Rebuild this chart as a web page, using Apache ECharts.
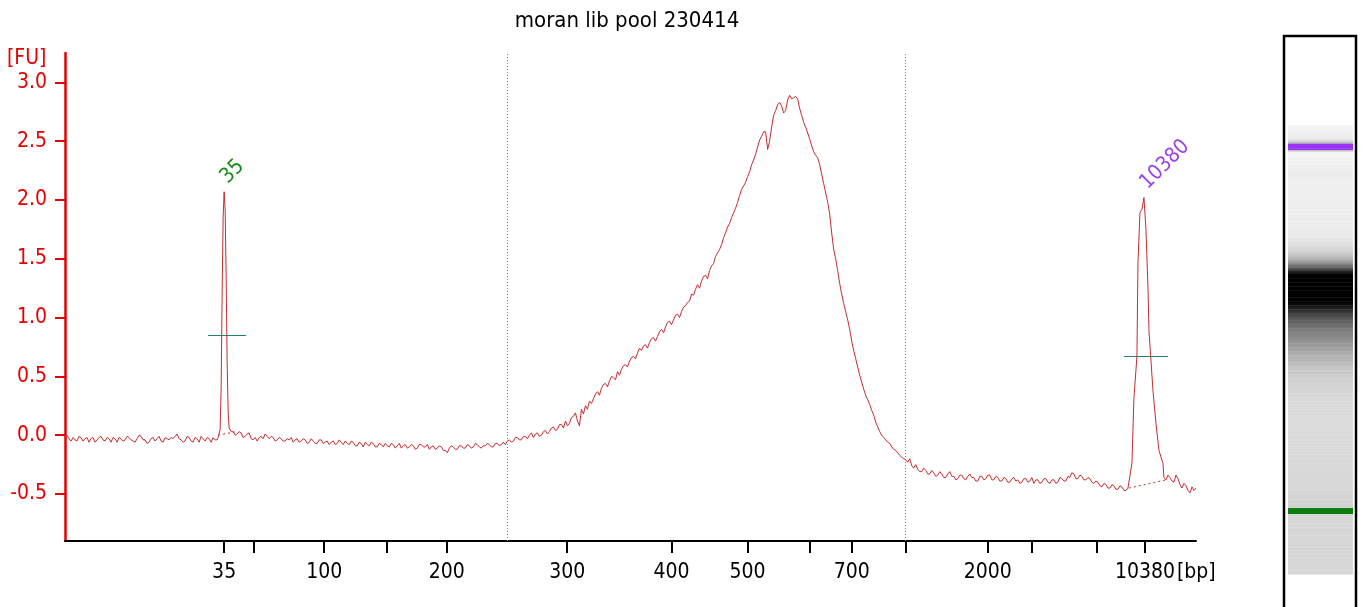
<!DOCTYPE html>
<html><head><meta charset="utf-8">
<script src="https://cdn.jsdelivr.net/npm/echarts@6/dist/echarts.min.js"></script>
<style>html,body{margin:0;padding:0;background:#fff}#c{width:1361px;height:607px}</style>
</head><body><div id="c"></div>
<script>
// ---- data ----
const titleText = 'moran lib pool 230414';
// migration position (arbitrary time units) of ladder sizes
const ladderT  = [15.9, 18.9, 25.9, 32.1, 38.15, 50.18, 60.6, 68.2, 74.4, 78.6, 84.0, 92.2, 96.6, 103.1, 107.9];
const ladderBp = ['35', '50', '100', '150', '200', '300', '400', '500', '600', '700', '1000', '2000', '3000', '7000', '10380'];
const labeledBp = ['35', '100', '200', '300', '400', '500', '700', '2000', '10380'];
const yTicks = [-0.5, 0, 0.5, 1.0, 1.5, 2.0, 2.5, 3.0];
const regionT = [44.16, 84.0];
const sampleStep = 0.2;
const traceFU = [
 -0.01,0.00,-0.03,-0.05,-0.02,-0.04,-0.05,-0.01,-0.02,-0.05,-0.03,-0.02,-0.06,-0.03,-0.02,-0.06,-0.04,-0.02,-0.01,-0.04,
 -0.05,-0.02,-0.03,-0.06,-0.02,-0.03,-0.06,-0.02,-0.03,-0.05,-0.04,-0.01,-0.02,-0.04,-0.05,-0.06,-0.03,0.00,-0.01,-0.04,
 -0.04,-0.07,-0.06,-0.03,-0.02,-0.05,-0.03,-0.01,-0.05,-0.06,-0.02,-0.03,-0.04,-0.02,-0.03,-0.01,0.01,-0.03,-0.04,-0.06,
 -0.05,-0.01,-0.02,-0.05,-0.06,-0.02,-0.03,-0.06,-0.01,-0.03,-0.05,-0.02,-0.03,-0.06,-0.02,-0.04,-0.04,-0.01,0.00,0.01,
 0.02,0.03,0.02,0.04,0.03,0.00,0.01,0.03,0.02,-0.02,-0.01,0.01,0.02,-0.03,-0.04,-0.02,-0.05,-0.02,-0.01,-0.03,
 0.01,-0.01,-0.03,-0.01,-0.02,-0.05,-0.04,-0.02,-0.03,-0.05,-0.05,-0.03,-0.04,-0.02,-0.06,-0.04,-0.03,-0.06,-0.05,-0.03,
 -0.04,-0.07,-0.06,-0.03,-0.05,-0.07,-0.07,-0.04,-0.04,-0.07,-0.06,-0.05,-0.08,-0.06,-0.05,-0.08,-0.07,-0.04,-0.06,-0.08,
 -0.05,-0.07,-0.08,-0.05,-0.06,-0.09,-0.09,-0.06,-0.07,-0.10,-0.06,-0.08,-0.09,-0.06,-0.07,-0.10,-0.10,-0.07,-0.08,-0.10,
 -0.07,-0.09,-0.10,-0.07,-0.08,-0.11,-0.09,-0.07,-0.11,-0.09,-0.08,-0.11,-0.10,-0.08,-0.09,-0.12,-0.11,-0.08,-0.08,-0.10,
 -0.10,-0.08,-0.12,-0.10,-0.09,-0.12,-0.11,-0.09,-0.10,-0.13,-0.13,-0.15,-0.11,-0.09,-0.10,-0.12,-0.12,-0.09,-0.09,-0.11,
 -0.11,-0.08,-0.09,-0.11,-0.10,-0.07,-0.08,-0.10,-0.11,-0.09,-0.09,-0.07,-0.08,-0.10,-0.10,-0.07,-0.07,-0.09,-0.08,-0.06,
 -0.08,-0.05,-0.04,-0.06,-0.05,-0.02,-0.02,-0.04,-0.04,-0.01,-0.01,-0.03,0.00,0.02,-0.02,0.01,0.02,-0.01,0.00,0.03,
 0.04,0.01,0.03,0.06,0.07,0.04,0.05,0.09,0.09,0.06,0.12,0.08,0.10,0.15,0.16,0.19,0.12,0.08,0.22,0.18,
 0.25,0.22,0.29,0.27,0.31,0.35,0.37,0.34,0.40,0.43,0.44,0.41,0.46,0.50,0.49,0.47,0.54,0.51,0.56,0.59,
 0.60,0.58,0.63,0.66,0.67,0.65,0.70,0.74,0.72,0.76,0.77,0.74,0.79,0.82,0.83,0.80,0.84,0.88,0.90,0.87,
 0.92,0.96,0.97,0.94,0.98,1.02,1.03,1.00,1.05,1.09,1.10,1.13,1.14,1.20,1.19,1.24,1.28,1.25,1.31,1.35,
 1.36,1.33,1.40,1.44,1.46,1.52,1.55,1.58,1.62,1.68,1.72,1.77,1.80,1.85,1.89,1.93,1.98,2.04,2.09,2.12,
 2.15,2.20,2.24,2.30,2.34,2.39,2.45,2.51,2.54,2.58,2.58,2.43,2.50,2.62,2.72,2.76,2.81,2.83,2.80,2.74,
 2.76,2.85,2.89,2.86,2.87,2.88,2.86,2.78,2.72,2.66,2.62,2.57,2.52,2.46,2.41,2.38,2.36,2.30,2.22,2.14,
 2.06,1.98,1.88,1.72,1.58,1.50,1.40,1.29,1.20,1.12,1.05,0.98,0.90,0.80,0.72,0.65,0.58,0.51,0.45,0.39,
 0.34,0.30,0.26,0.21,0.17,0.11,0.07,0.03,0.00,-0.02,-0.04,-0.06,-0.07,-0.10,-0.12,-0.13,-0.15,-0.17,-0.19,-0.20,
 -0.21,-0.23,-0.20,-0.26,-0.28,-0.25,-0.29,-0.31,-0.31,-0.28,-0.30,-0.33,-0.33,-0.30,-0.32,-0.35,-0.34,-0.31,-0.33,-0.36,
 -0.36,-0.33,-0.31,-0.35,-0.35,-0.38,-0.37,-0.34,-0.34,-0.37,-0.38,-0.35,-0.33,-0.36,-0.36,-0.39,-0.39,-0.35,-0.35,-0.38,
 -0.37,-0.34,-0.34,-0.38,-0.38,-0.35,-0.36,-0.39,-0.39,-0.36,-0.37,-0.40,-0.40,-0.37,-0.36,-0.39,-0.38,-0.41,-0.40,-0.37,
 -0.37,-0.40,-0.39,-0.36,-0.41,-0.38,-0.38,-0.41,-0.40,-0.37,-0.37,-0.40,-0.41,-0.38,-0.38,-0.41,-0.40,-0.36,-0.37,-0.39,
 -0.39,-0.35,-0.36,-0.32,-0.33,-0.37,-0.37,-0.34,-0.35,-0.38,-0.38,-0.36,-0.37,-0.40,-0.41,-0.39,-0.40,-0.43,-0.44,-0.41,
 -0.42,-0.45,-0.45,-0.42,-0.43,-0.46,-0.46,-0.43,-0.44,-0.47,-0.47,-0.45,-0.45,-0.45,-0.45,-0.45,-0.45,-0.45,-0.45,-0.45,
 -0.45,-0.45,-0.45,-0.45,-0.45,-0.45,-0.45,-0.45,-0.45,-0.36,-0.38,-0.34,-0.36,-0.39,-0.40,-0.34,-0.37,-0.42,-0.45,-0.41,
 -0.43,-0.47,-0.49,-0.44,-0.47,-0.45
];
const markerLowT  = [15.3, 15.5, 15.6, 15.7, 15.8, 15.9, 16.0, 16.1, 16.2, 16.3, 16.4, 16.6];
const markerLowFU = [-0.02, 0.05, 0.40, 1.20, 1.85, 2.07, 1.92, 1.35, 0.62, 0.20, 0.06, 0.03];
const markerHighT  = [106.3, 106.6, 106.8, 107.1, 107.2, 107.4, 107.6, 107.8, 108.0, 108.2, 108.3, 108.7, 109.0, 109.3, 109.7];
const markerHighFU = [-0.45, -0.24, 0.32, 0.67, 1.46, 1.89, 1.92, 2.02, 1.75, 1.26, 0.89, 0.38, 0.10, -0.13, -0.24];
const peakNames = ['35', '10380'];
const peakT  = [15.9, 107.8];
const peakFU = [2.07, 2.02];
const fwhmFromT = [14.3, 105.8];
const fwhmToT   = [18.1, 110.2];
const fwhmFU    = [0.846, 0.67];
const baseFromT  = [15.3, 106.3];
const baseFromFU = [0.00, -0.45];
const baseToT    = [17.1, 110.0];
const baseToFU   = [0.03, -0.38];

// ---- build ----
const FONT = "'DejaVu Sans Condensed', 'DejaVu Sans', sans-serif";
const FS = 21;
const RED = '#e60000';
const TRACE = '#c42d30';
const peakColors = ['#178a17', '#9b3ff0'];
const bandColors = ['#0a7d0a', '#9a34f5'];
const bandHalf = 0.8;

const pts = [];
const within = (t, arr) => t >= arr[0] && t <= arr[arr.length - 1];
traceFU.forEach((v, i) => {
  const t = +(i * sampleStep).toFixed(2);
  if (within(t, markerLowT) || within(t, markerHighT)) return;
  pts.push([t, v, -1]);
});
markerLowT.forEach((t, i) => pts.push([t, markerLowFU[i], 0]));
markerHighT.forEach((t, i) => pts.push([t, markerHighFU[i], 1]));
pts.sort((a, b) => a[0] - b[0]);
const lineData = pts.map(p => [p[0], p[1]]);
const gelData = pts.map((p, i) => {
  const k = p[2] >= 0 && Math.abs(p[0] - peakT[p[2]]) <= bandHalf ? p[2] : -1;
  return [p[0], p[1], i < pts.length - 1 ? pts[i + 1][0] : p[0] + sampleStep, k];
});

const labeledT = labeledBp.map(b => ladderT[ladderBp.indexOf(b)]);

function grey(fu) {
  let g;
  if (fu < 0.5) g = 240 - 69 * (fu + 0.4);
  else g = 178 - 99 * (fu - 0.5);
  g = Math.max(0, Math.min(247, Math.round(g)));
  return 'rgb(' + g + ',' + g + ',' + g + ')';
}

const chart = echarts.init(document.getElementById('c'));
chart.setOption({
  animation: false,
  backgroundColor: '#fff',
  title: { text: titleText, left: 622, textAlign: 'center', top: 5,
    textStyle: { fontFamily: FONT, fontSize: 22, fontWeight: 'normal', color: '#000' } },
  grid: [
    { left: 65, right: 165, top: 53, bottom: 66 },
    { left: 1288, top: 126, width: 65, height: 448 }
  ],
  xAxis: [
    { type: 'value', gridIndex: 0, min: 0, max: 113,
      axisLine: { onZero: false, lineStyle: { color: '#000', width: 2 } },
      axisTick: { customValues: ladderT, length: 12, lineStyle: { color: '#000', width: 2 } },
      axisLabel: { customValues: labeledT, margin: 21, fontFamily: FONT, fontSize: FS, color: '#000',
        formatter: v => { let best = 0; ladderT.forEach((t, i) => { if (Math.abs(t - v) < Math.abs(ladderT[best] - v)) best = i; }); return ladderBp[best]; } },
      splitLine: { show: false } },
    { type: 'value', gridIndex: 1, min: 0, max: 1, show: false }
  ],
  yAxis: [
    { type: 'value', gridIndex: 0, min: -0.9, max: 3.25,
      axisLine: { show: true, onZero: false, lineStyle: { color: RED, width: 2.5 } },
      axisTick: { show: true, customValues: yTicks, length: 10, lineStyle: { color: RED, width: 2 } },
      axisLabel: { customValues: yTicks, margin: 18, fontFamily: FONT, fontSize: FS, color: RED,
        formatter: v => v.toFixed(1) },
      splitLine: { show: false } },
    { type: 'value', gridIndex: 1, min: 0, max: 113, show: false }
  ],
  graphic: [
    { type: 'text', left: 7, top: 48, style: { text: '[FU]', fill: RED, font: FS + 'px ' + FONT } },
    { type: 'text', left: 1177, top: 562, style: { text: '[bp]', fill: '#000', font: FS + 'px ' + FONT } },
    { type: 'rect', shape: { x: 1284, y: 36, width: 72, height: 620 }, style: { fill: 'none', stroke: '#000', lineWidth: 2.5 }, z: 10 }
  ],
  series: [
    { type: 'line', xAxisIndex: 0, yAxisIndex: 0, data: lineData, showSymbol: false, symbol: 'none',
      lineStyle: { color: TRACE, width: 1 }, z: 3,
      markLine: { silent: true, symbol: ['none', 'none'], label: { show: false },
        data: [
          ...regionT.map(t => ({ xAxis: t, lineStyle: { color: '#7474d4', type: [1, 2], width: 1 } })),
          ...fwhmFromT.map((t, i) => [{ coord: [t, fwhmFU[i]], lineStyle: { color: '#2f7d62', type: 'solid', width: 1 } }, { coord: [fwhmToT[i], fwhmFU[i]] }]),
          ...baseFromT.map((t, i) => [{ coord: [t, baseFromFU[i]], lineStyle: { color: TRACE, type: [2, 3], width: 1 } }, { coord: [baseToT[i], baseToFU[i]] }])
        ] },
      markPoint: { silent: true, symbol: 'circle', symbolSize: 0,
        data: peakNames.map((n, i) => ({ name: n, coord: [peakT[i], peakFU[i]],
          label: { show: true, formatter: n, color: peakColors[i], rotate: 45, position: 'inside',
            align: 'left', verticalAlign: 'bottom', offset: [8, 2], fontFamily: FONT, fontSize: FS } })) } },
    { type: 'custom', xAxisIndex: 1, yAxisIndex: 1, data: gelData, silent: true,
      renderItem: (params, api) => {
        const t0 = api.value(0), fu = api.value(1), t1 = api.value(2), kind = api.value(3);
        const p0 = api.coord([0, t0]), p1 = api.coord([1, t1]);
        const fill = kind >= 0 ? bandColors[kind] : grey(fu);
        return { type: 'rect', shape: { x: p0[0], y: p1[1], width: p1[0] - p0[0], height: p0[1] - p1[1] + 0.6 },
          style: { fill: fill } };
      } }
  ]
});
</script></body></html>
